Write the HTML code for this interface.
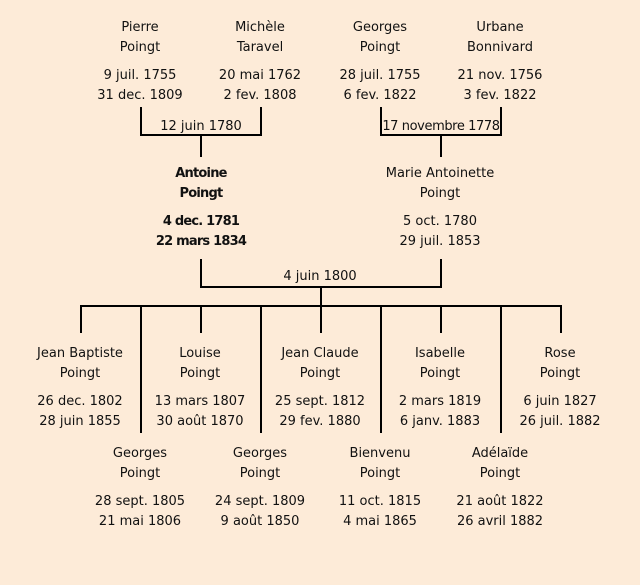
<!DOCTYPE html>
<html><head><meta charset="utf-8"><style>
html,body{margin:0;padding:0;background:#fdebd8;}
svg{display:block}
text{font-family:"Comic Sans MS","DejaVu Sans","Liberation Sans",sans-serif;font-size:13px;fill:#111;text-anchor:middle}
.b{font-weight:bold;letter-spacing:-0.8px}
.s{letter-spacing:-0.4px}
</style></head><body>
<svg width="640" height="585" viewBox="0 0 640 585" xmlns="http://www.w3.org/2000/svg">
<rect width="640" height="585" fill="#fdebd8"/>
<g stroke="#000" stroke-width="2" fill="none">
<path d="M141 107V135H261V107M201 135V157"/>
<path d="M381 107V135H501V107M441 135V157"/>
<path d="M201 259V287H441V259M321 287V306"/>
<path d="M80 306H562"/>
<path d="M81 306V333M201 306V333M321 306V333M441 306V333M561 306V333"/>
<path d="M141 306V433M261 306V433M381 306V433M501 306V433"/>
</g>
<g>
<text x="140" y="31">Pierre</text><text x="140" y="51">Poingt</text><text x="140" y="79">9 juil. 1755</text><text x="140" y="99">31 dec. 1809</text>
<text x="260" y="31">Michèle</text><text x="260" y="51">Taravel</text><text x="260" y="79">20 mai 1762</text><text x="260" y="99">2 fev. 1808</text>
<text x="380" y="31">Georges</text><text x="380" y="51">Poingt</text><text x="380" y="79">28 juil. 1755</text><text x="380" y="99">6 fev. 1822</text>
<text x="500" y="31">Urbane</text><text x="500" y="51">Bonnivard</text><text x="500" y="79">21 nov. 1756</text><text x="500" y="99">3 fev. 1822</text>
<text x="201" y="130">12 juin 1780</text>
<text class="s" x="441" y="130">17 novembre 1778</text>
<text class="b" x="201" y="177">Antoine</text><text class="b" x="201" y="197">Poingt</text><text class="b" x="201" y="225">4 dec. 1781</text><text class="b" x="201" y="245">22 mars 1834</text>
<text x="440" y="177">Marie Antoinette</text><text x="440" y="197">Poingt</text><text x="440" y="225">5 oct. 1780</text><text x="440" y="245">29 juil. 1853</text>
<text x="320" y="280">4 juin 1800</text>
<text x="80" y="357">Jean Baptiste</text><text x="80" y="377">Poingt</text><text x="80" y="405">26 dec. 1802</text><text x="80" y="425">28 juin 1855</text>
<text x="200" y="357">Louise</text><text x="200" y="377">Poingt</text><text x="200" y="405">13 mars 1807</text><text x="200" y="425">30 août 1870</text>
<text x="320" y="357">Jean Claude</text><text x="320" y="377">Poingt</text><text x="320" y="405">25 sept. 1812</text><text x="320" y="425">29 fev. 1880</text>
<text x="440" y="357">Isabelle</text><text x="440" y="377">Poingt</text><text x="440" y="405">2 mars 1819</text><text x="440" y="425">6 janv. 1883</text>
<text x="560" y="357">Rose</text><text x="560" y="377">Poingt</text><text x="560" y="405">6 juin 1827</text><text x="560" y="425">26 juil. 1882</text>
<text x="140" y="457">Georges</text><text x="140" y="477">Poingt</text><text x="140" y="505">28 sept. 1805</text><text x="140" y="525">21 mai 1806</text>
<text x="260" y="457">Georges</text><text x="260" y="477">Poingt</text><text x="260" y="505">24 sept. 1809</text><text x="260" y="525">9 août 1850</text>
<text x="380" y="457">Bienvenu</text><text x="380" y="477">Poingt</text><text x="380" y="505">11 oct. 1815</text><text x="380" y="525">4 mai 1865</text>
<text x="500" y="457">Adélaïde</text><text x="500" y="477">Poingt</text><text x="500" y="505">21 août 1822</text><text x="500" y="525">26 avril 1882</text>
</g>
</svg>
</body></html>
